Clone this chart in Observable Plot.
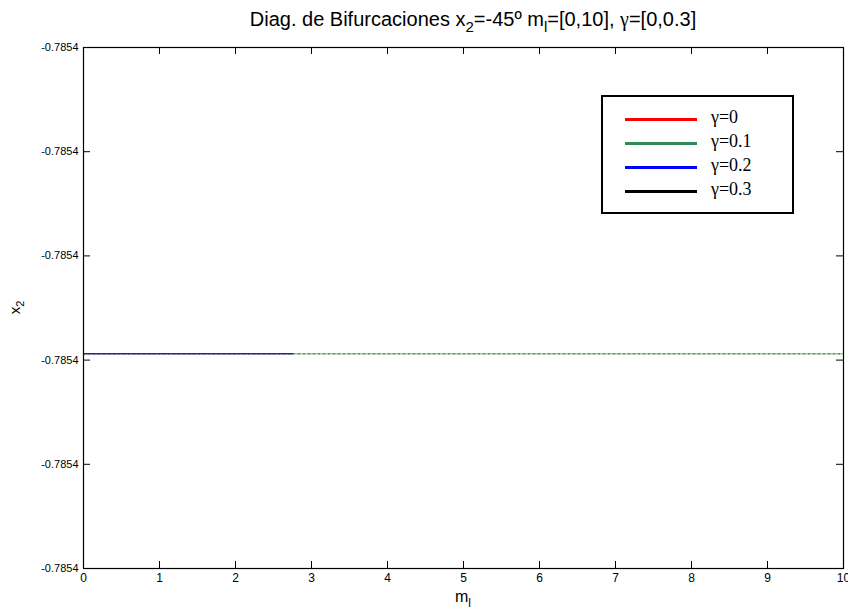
<!DOCTYPE html>
<html><head><meta charset="utf-8">
<script src="https://cdn.jsdelivr.net/npm/d3@7"></script>
<script src="https://cdn.jsdelivr.net/npm/@observablehq/plot@0.6"></script>
<style>
body{margin:0;background:#fff;}
#wrap{position:relative;width:848px;height:610px;font-family:"Liberation Sans",Arial,sans-serif;}
#legend{position:absolute;left:601px;top:95px;width:189px;height:115px;border:2px solid #000;background:#fff;font-family:"Liberation Serif","Times New Roman",serif;font-size:18px;}
.row{position:absolute;left:0;height:20px;}
.sw{position:absolute;left:22px;width:72px;height:3px;top:9px;}
.lb{position:absolute;left:108px;top:-2px;white-space:nowrap;}
</style></head>
<body><div id="wrap"></div>
<script>
const title = "Diag. de Bifurcaciones";
const xTicks = [0,1,2,3,4,5,6,7,8,9,10];
const yTicks = [-0.7854000,-0.7853990,-0.7853980,-0.7853970,-0.7853960,-0.7853950];
const seriesNames = ["γ=0","γ=0.1","γ=0.2","γ=0.3"];
const seriesColors = ["#ff0000","#2e8b57","#0000ff","#000000"];
const x2Value = -0.78539794;
const m01 = [2.75, 10];   // gamma 0.1 visible segment
const m02 = [0, 2.75];    // gamma 0.2 visible segment
const m03 = [0, 10];      // gamma 0.3 (dots under)

const W=848,H=610,mL=83,mR=5,mT=47,mB=42;
const fw=W-mL-mR, fh=H-mT-mB, tk=7;
const pts = ms => ms.map(m=>({m, v:x2Value}));
const yfmt = d => d.toFixed(4);

const plot = Plot.plot({
  width:W,height:H,marginLeft:mL,marginRight:mR,marginTop:mT,marginBottom:mB,
  style:{fontFamily:'"Liberation Sans",Arial,sans-serif',fontSize:"11px",color:"#000",background:"#fff",overflow:"visible"},
  x:{domain:[0,10],ticks:xTicks,label:null},
  y:{domain:[yTicks[0],yTicks[yTicks.length-1]],ticks:yTicks,label:null,tickFormat:yfmt},
  marks:[
    Plot.axisX({ticks:xTicks,tickSize:0,tickPadding:5,fontSize:12,label:null}),
    Plot.axisY({ticks:yTicks,tickSize:0,tickPadding:5,fontSize:11,label:null,tickFormat:yfmt}),
    Plot.ruleX(xTicks,{x:d=>d,insetTop:fh-tk,stroke:"#000"}),
    Plot.ruleX(xTicks,{x:d=>d,insetBottom:fh-tk,stroke:"#000"}),
    Plot.ruleY(yTicks,{y:d=>d,insetRight:fw-tk,stroke:"#000"}),
    Plot.ruleY(yTicks,{y:d=>d,insetLeft:fw-tk,stroke:"#000"}),
    Plot.lineY(pts(m01),{x:"m",y:"v",stroke:"#7ed87e",strokeWidth:1.5,strokeDasharray:"2,1"}),
    Plot.lineY(pts(m03),{x:"m",y:"v",stroke:"#555",strokeWidth:1,strokeDasharray:"1,4"}),
    Plot.lineY(pts(m02),{x:"m",y:"v",stroke:"#22227a",strokeWidth:1.5,strokeDasharray:"2,1"}),
    Plot.frame({stroke:"#000",strokeWidth:1.2})
  ]
});
const wrap=document.getElementById("wrap");
wrap.appendChild(plot);
const svg=d3.select(plot);
// title
const t=svg.append("text").attr("x",mL+fw/2+10).attr("y",26).attr("text-anchor","middle")
  .style("font-size","20px").style("font-family",'"Liberation Sans",Arial,sans-serif').attr("fill","#000");
t.append("tspan").text(title+" x");
t.append("tspan").attr("dy",6).style("font-size","15px").text("2");
t.append("tspan").attr("dy",-6).text("=-45º m");
t.append("tspan").attr("dy",6).style("font-size","15px").text("l");
t.append("tspan").attr("dy",-6).text("=[0,10], ");
t.append("tspan").style("font-family",'"Liberation Serif",serif').text("γ");
t.append("tspan").text("=[0,0.3]");
// x label
const xl=svg.append("text").attr("x",mL+fw/2).attr("y",H-8).attr("text-anchor","middle").style("font-size","16px");
xl.append("tspan").text("m");
xl.append("tspan").attr("dy",5).style("font-size","12px").text("l");
// y label
const yl=svg.append("text").attr("transform",`translate(20,${mT+fh/2}) rotate(-90)`).attr("text-anchor","middle").style("font-size","15px");
yl.append("tspan").text("x");
yl.append("tspan").attr("dy",4).style("font-size","11px").text("2");
// legend
const lg=document.createElement("div");lg.id="legend";
seriesNames.forEach((n,i)=>{
  const r=document.createElement("div");r.className="row";r.style.top=(12+i*24)+"px";r.style.width="100%";
  r.innerHTML=`<div class="sw" style="background:${seriesColors[i]}"></div><div class="lb">${n}</div>`;
  lg.appendChild(r);
});
wrap.appendChild(lg);
</script></body></html>
